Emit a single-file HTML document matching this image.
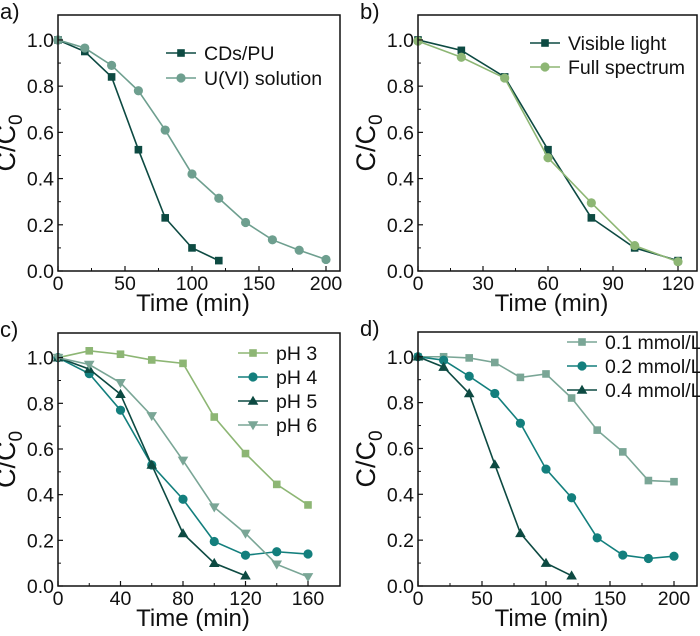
<!DOCTYPE html>
<html><head><meta charset="utf-8"><style>
html,body{margin:0;padding:0;background:#fff;}
svg{display:block;font-family:"Liberation Sans",Arial,sans-serif;}
</style></head><body>
<svg id="fig" width="700" height="636" viewBox="0 0 700 636" xmlns="http://www.w3.org/2000/svg"></svg>
<script>
// Panel a
const aX1=[0,20,40,60,80,100,120];
const aY1=[1.0,0.95,0.84,0.525,0.23,0.10,0.045];
const aX2=[0,20,40,60,80,100,120,140,160,180,200];
const aY2=[1.0,0.965,0.89,0.78,0.61,0.42,0.315,0.21,0.135,0.09,0.05];
// Panel b
const bX=[0,20,40,60,80,100,120];
const bY1=[1.0,0.955,0.84,0.525,0.23,0.10,0.045];
const bY2=[0.995,0.925,0.835,0.49,0.295,0.11,0.04];
// Panel c
const cX3=[0,20,40,60,80,100,120,140,160];
const cY3=[1.0,1.03,1.015,0.99,0.975,0.74,0.58,0.445,0.355];
const cX4=[0,20,40,60,80,100,120,140,160];
const cY4=[1.0,0.93,0.77,0.53,0.38,0.195,0.135,0.15,0.14];
const cX5=[0,20,40,60,80,100,120];
const cY5=[1.0,0.95,0.84,0.53,0.23,0.10,0.045];
const cX6=[0,20,40,60,80,100,120,140,160];
const cY6=[1.0,0.97,0.89,0.745,0.55,0.345,0.23,0.095,0.04];
// Panel d
const dX1=[0,20,40,60,80,100,120,140,160,180,200];
const dY1=[1.0,1.0,0.995,0.975,0.91,0.925,0.82,0.68,0.585,0.46,0.455];
const dX2=[0,20,40,60,80,100,120,140,160,180,200];
const dY2=[1.0,0.985,0.915,0.84,0.71,0.51,0.385,0.21,0.135,0.12,0.13];
const dX3=[0,20,40,60,80,100,120];
const dY3=[1.0,0.955,0.84,0.53,0.23,0.10,0.045];
const yTicks=[0,0.2,0.4,0.6,0.8,1.0];

const NS="http://www.w3.org/2000/svg";
const svg=document.getElementById('fig');
function mk(tag,attrs,parent){const e=document.createElementNS(NS,tag);for(const k in attrs)e.setAttribute(k,attrs[k]);(parent||svg).appendChild(e);return e;}
function txt(s,attrs,parent){const e=mk('text',attrs,parent);e.textContent=s;return e;}

function marker(g,type,x,y,col,r){
  let m;
  if(type==='sq'){m=mk('rect',{x:x-r,y:y-r,width:2*r,height:2*r,fill:col},g);}
  else if(type==='ci'){m=mk('circle',{cx:x,cy:y,r:r+0.8,fill:col},g);}
  else if(type==='up'){m=mk('polygon',{points:`${x},${y-r-1.5} ${x-r-1.5},${y+r} ${x+r+1.5},${y+r}`,fill:col},g);}
  else {m=mk('polygon',{points:`${x},${y+r+1.5} ${x-r-1.5},${y-r} ${x+r+1.5},${y-r}`,fill:col},g);}
  return m;
}

function panel(o){
  const g=mk('g',{});
  
  
  const L=o.L,R=o.R,T=o.T,B=o.B;
  const y1=B-(B-T)/1.108;
  const sy=v=>B-(B-y1)*v;
  const sx=v=>L+(o.x1px-L)*v/o.xref;
  o.series.forEach(s=>{
    const sg=mk('g',{},g);
    
    
    const pts=s.x.map((v,i)=>sx(v)+','+sy(s.y[i])).join(' ');
    mk('polyline',{points:pts,fill:'none',stroke:s.col,'stroke-width':1.6},sg);
    s.x.forEach((v,i)=>{const m=marker(sg,s.m,sx(v),sy(s.y[i]),s.col,s.r||3.8);
      });
  });
  const fr=mk('rect',{x:L,y:T,width:R-L,height:B-T,fill:'none',stroke:'#111','stroke-width':1.5},g);
  
  yTicks.forEach(v=>{const y=sy(v);
    mk('line',{x1:L,y1:y,x2:L+5,y2:y,stroke:'#111','stroke-width':1.2},g);
    const t=txt(v.toFixed(1),{x:L-4,y:y+7,'font-size':19.5,'text-anchor':'end',fill:'#111'},g);
    
    const ym=sy(v+0.1); if(v<1.0) mk('line',{x1:L,y1:ym,x2:L+3,y2:ym,stroke:'#111','stroke-width':1},g);
  });
  o.xticks.forEach(v=>{const x=sx(v);
    mk('line',{x1:x,y1:B,x2:x,y2:B-5,stroke:'#111','stroke-width':1.2},g);
    const t=txt(String(v),{x:x,y:B+19,'font-size':19.5,'text-anchor':'middle',fill:'#111'},g);
    
    const xm=sx(v+o.minor); if(xm<R-2) mk('line',{x1:xm,y1:B,x2:xm,y2:B-3,stroke:'#111','stroke-width':1},g);
  });
  const xt=txt('Time (min)',{x:(L+R)/2-6,y:B+40,'font-size':24,'text-anchor':'middle',fill:'#111'},g);
  
  const yx=L-43, yy=(T+B)/2;
  const yt=txt('',{x:yx,y:yy,'font-size':27,'text-anchor':'middle',fill:'#111',transform:`rotate(-90 ${yx} ${yy})`},g);
  
  const t1=mk('tspan',{},yt);t1.textContent='C/C';
  const t2=mk('tspan',{'font-size':19,dy:7},yt);t2.textContent='0';
  const lab=txt(o.label,{x:L-58,y:T+4,'font-size':22,fill:'#111'},g);
  
  o.series.forEach((s,i)=>{
    const ly=o.legY+i*o.legDy, lx=o.legX;
    const lg=mk('g',{},g);
    
    
    mk('line',{x1:lx,y1:ly,x2:lx+30,y2:ly,stroke:s.col,'stroke-width':1.6},lg);
    marker(lg,s.m,lx+15,ly,s.col,s.r||3.8);
    txt(s.name2,{x:lx+38,y:ly+7,'font-size':19.5,fill:'#111'},lg);
  });
}
const DK='#0d4a42', MG='#6e9f8f', LG='#8db674', TL='#137f7d', GG='#7aa696';
panel({name:'panel-a',label:'a)',L:58,R:340,T:15,B:271,x1px:326,xref:200,xticks:[0,50,100,150,200],minor:25,
  legX:166,legY:53,legDy:25,
  series:[{name:'series-cds-pu',name2:'CDs/PU',x:aX1,y:aY1,col:DK,m:'sq'},
          {name:'series-u-vi-solution',name2:'U(VI) solution',x:aX2,y:aY2,col:MG,m:'ci'}]});
panel({name:'panel-b',label:'b)',L:418,R:697,T:15,B:271,x1px:678,xref:120,xticks:[0,30,60,90,120],minor:15,
  legX:530,legY:43,legDy:24,
  series:[{name:'series-visible-light',name2:'Visible light',x:bX,y:bY1,col:DK,m:'sq'},
          {name:'series-full-spectrum',name2:'Full spectrum',x:bX,y:bY2,col:LG,m:'ci'}]});
panel({name:'panel-c',label:'c)',L:58,R:340,T:333,B:586,x1px:308,xref:160,xticks:[0,40,80,120,160],minor:20,
  legX:238,legY:353,legDy:24,
  series:[{name:'series-ph3',name2:'pH 3',x:cX3,y:cY3,col:LG,m:'sq'},
          {name:'series-ph4',name2:'pH 4',x:cX4,y:cY4,col:TL,m:'ci'},
          {name:'series-ph5',name2:'pH 5',x:cX5,y:cY5,col:DK,m:'up'},
          {name:'series-ph6',name2:'pH 6',x:cX6,y:cY6,col:GG,m:'dn'}]});
panel({name:'panel-d',label:'d)',L:418,R:697,T:332,B:586,x1px:674,xref:200,xticks:[0,50,100,150,200],minor:25,
  legX:567,legY:342,legDy:24,
  series:[{name:'series-0-1-mmol',name2:'0.1 mmol/L',x:dX1,y:dY1,col:GG,m:'sq'},
          {name:'series-0-2-mmol',name2:'0.2 mmol/L',x:dX2,y:dY2,col:TL,m:'ci'},
          {name:'series-0-4-mmol',name2:'0.4 mmol/L',x:dX3,y:dY3,col:DK,m:'up'}]});
</script>
</body></html>
